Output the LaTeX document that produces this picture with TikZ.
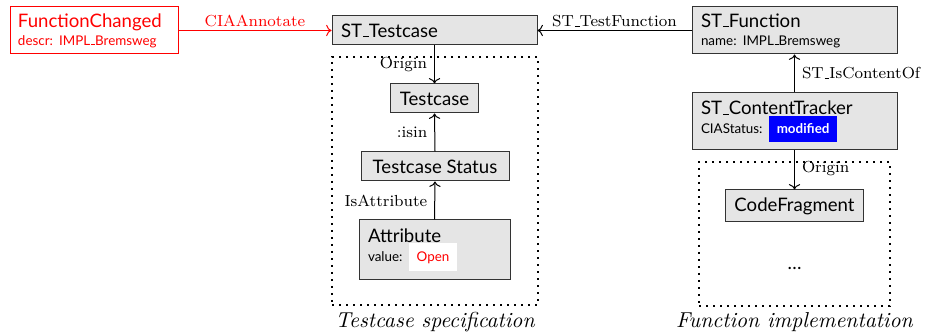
\documentclass[tikz,border=0pt]{standalone}
\usepackage{fontspec}
\setsansfont{Lato}
\usetikzlibrary{arrows.meta}
\definecolor{boxgray}{gray}{0.9}
\definecolor{boxline}{gray}{0.2}
% short underscore drawn as a rule
\newcommand{\us}{\leavevmode\kern.06em\vbox{\hrule width.3em}}
\newcommand{\subline}[1]{{\fontsize{6.7}{8}\selectfont #1}}
\tikzset{
  titlefont/.style={font=\sffamily\frenchspacing\fontsize{9.3}{11}\selectfont},
  classbox/.style={draw=boxline, fill=boxgray, line width=0.5pt, titlefont,
    inner xsep=4.5pt, inner ysep=0pt},
  leftbox/.style={classbox, align=left},
  annotbox/.style={draw=red, fill=white, line width=0.5pt, text=red, align=left,
    titlefont, inner xsep=4pt, inner ysep=0pt},
  group/.style={draw, line width=1pt, dash pattern=on 1pt off 2.5pt},
  rel/.style={->, line width=0.5pt},
  rellabel/.style={font=\fontsize{8}{9}\selectfont, inner sep=1.5pt},
  caption/.style={font=\itshape\fontsize{10.8}{12}\selectfont}
}
\begin{document}
\begin{tikzpicture}[x=0.5pt,y=-0.5pt]
\useasboundingbox (0,0) rectangle (936,335);

% groups
\node[group, minimum width=103pt, minimum height=124pt, inner sep=0pt] (specgroup) at (435,181) {};
\node[group, minimum width=95.5pt, minimum height=72pt, inner sep=0pt] (implgroup) at (794.5,234) {};
\node[caption] (speccap) at (435,322) {Testcase specification};
\node[caption] (implcap) at (794.5,322) {Function implementation};

% annotation
\node[annotbox, minimum width=84pt, minimum height=23.5pt, text width=76pt] (fc) at (94,30.5)
  {FunctionChanged\\[-2pt]\subline{descr: IMPL\us Bremsweg}};

% test side
\node[leftbox, minimum width=102.5pt, minimum height=14.5pt, text width=93.5pt] (tc) at (434.5,30.5) {ST\us Testcase};
\node[classbox, minimum width=43.5pt, minimum height=14.5pt] (tcase) at (434.5,98.5) {Testcase};
\node[classbox, minimum width=74pt, minimum height=14.5pt] (tstat) at (435,166.5) {Testcase Status};
\node[leftbox, minimum width=75.5pt, minimum height=30pt, text width=66.5pt] (attr) at (434.5,250)
  {Attribute\\[-1.5pt]\subline{value: {\fboxsep=4pt\colorbox{white}{\textcolor{red}{Open}}}}};

% function side
\node[leftbox, minimum width=102.5pt, minimum height=23.5pt, text width=93.5pt] (fn) at (794.5,30.5)
  {ST\us Function\\[-2pt]\subline{name: IMPL\us Bremsweg}};
\node[leftbox, minimum width=102.5pt, minimum height=28.5pt, text width=93.5pt] (ct) at (794.5,121.5)
  {ST\us ContentTracker\\[-1.5pt]\subline{CIAStatus: {\fboxsep=4pt\colorbox{blue}{\textcolor{white}{\bfseries modified}}}}};
\node[classbox, minimum width=67.5pt, minimum height=16pt] (cf) at (794.5,206) {CodeFragment};
\node[titlefont] (more) at (794.5,268) {\dots};

% relations
\draw[rel, red] (fc.east) -- node[rellabel, above, text=red] (lannot) {CIAAnnotate} (tc.west);
\draw[rel] (fn.west) -- node[rellabel, above] (ltf) {ST\us TestFunction} (tc.east);
\draw[rel] (ct.north) -- node[rellabel, right, xshift=2pt] (lico) {ST\us IsContentOf} (fn.south);
\draw[rel] (ct.south) -- node[rellabel, right, pos=0.45, xshift=2pt] (lori2) {Origin} (cf.north);
\draw[rel] (tc.south) -- node[rellabel, left, xshift=-2pt] (lori1) {Origin} (tcase.north);
\draw[rel] (tstat.north) -- node[rellabel, left, xshift=-2pt] (lisin) {:isin} (tcase.south);
\draw[rel] (attr.north) -- node[rellabel, left, xshift=-2pt] (lisattr) {IsAttribute} (tstat.south);
\end{tikzpicture}
\end{document}
